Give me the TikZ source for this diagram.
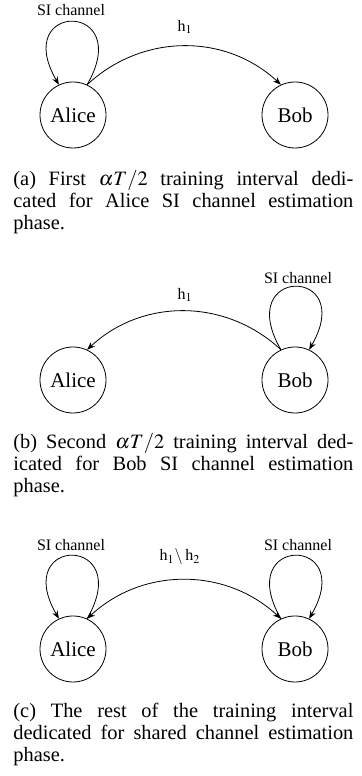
\documentclass[tikz,border=0pt]{standalone}
\usepackage{mathptmx}
\usepackage{fontspec}
\setmainfont{Liberation Serif}
\usetikzlibrary{arrows.meta}
\newcommand{\lft}{73}
\newcommand{\rgt}{295}
\newcommand{\parties}[2]{\node[party] (alice#1) at (\lft,#2) {Alice};
  \node[party] (bob#1) at (\rgt,#2) {Bob};}
% self loop from anchor #2 to anchor #3, leaving at #4, coming in at #5
\newcommand{\selfloop}[5]{\draw[->] (#1.#2) .. controls +(#4:97) and +(#5:97) .. (#1.#3);}
\newcommand{\caplabel}[3]{\node[captext] (cap#1) at (13,#2) {#3};}

\begin{document}
\begin{tikzpicture}[x=0.5pt,y=0.5pt,>={Stealth[length=4pt,width=3pt]},
    party/.style={draw,circle,minimum size=33pt,inner sep=0pt,font=\fontsize{10.5}{12}\selectfont},
    chanlabel/.style={inner sep=0pt,font=\fontsize{8}{9.6}\selectfont},
    captext/.style={anchor=north west,inner sep=0pt,text width=170pt,align=justify,font=\fontsize{10.2}{11}\selectfont}]
    \useasboundingbox (0,0) rectangle (362,776);
    % (a) Alice SI
    \parties{a}{661}
    \selfloop{alicea}{65}{115}{60}{120}
    \draw[->] (alicea.65) to[bend left=43] (boba.115);
    \node[chanlabel] (sia) at (71,766) {SI channel};
    \node[chanlabel] (ha) at (185,749) {h$_1$};
    \caplabel{a}{606}{(a) First $\alpha T/2$ training interval dedi-\linebreak cated for Alice SI channel estimation\linebreak phase.}
    % (b) Bob SI
    \parties{b}{396}
    \selfloop{bobb}{115}{65}{120}{60}
    \draw[->] (bobb.115) to[bend right=43] (aliceb.65);
    \node[chanlabel] (sib) at (298,498) {SI channel};
    \node[chanlabel] (hb) at (185,481) {h$_1$};
    \caplabel{b}{343}{(b) Second $\alpha T/2$ training interval ded-\linebreak icated for Bob SI channel estimation\linebreak phase.}
    % (c) shared
    \parties{c}{127}
    \selfloop{alicec}{65}{115}{60}{120}
    \selfloop{bobc}{115}{65}{120}{60}
    \draw[<->] (alicec.65) to[bend left=43] (bobc.115);
    \node[chanlabel] (sica) at (71,231) {SI channel};
    \node[chanlabel] (sicb) at (298,231) {SI channel};
    \node[chanlabel] (hc) at (180,219) {h$_1\backslash$\,h$_2$};
    \caplabel{c}{73}{(c) The rest of the training interval\linebreak dedicated for shared channel estimation\linebreak phase.}
\end{tikzpicture}
\end{document}
